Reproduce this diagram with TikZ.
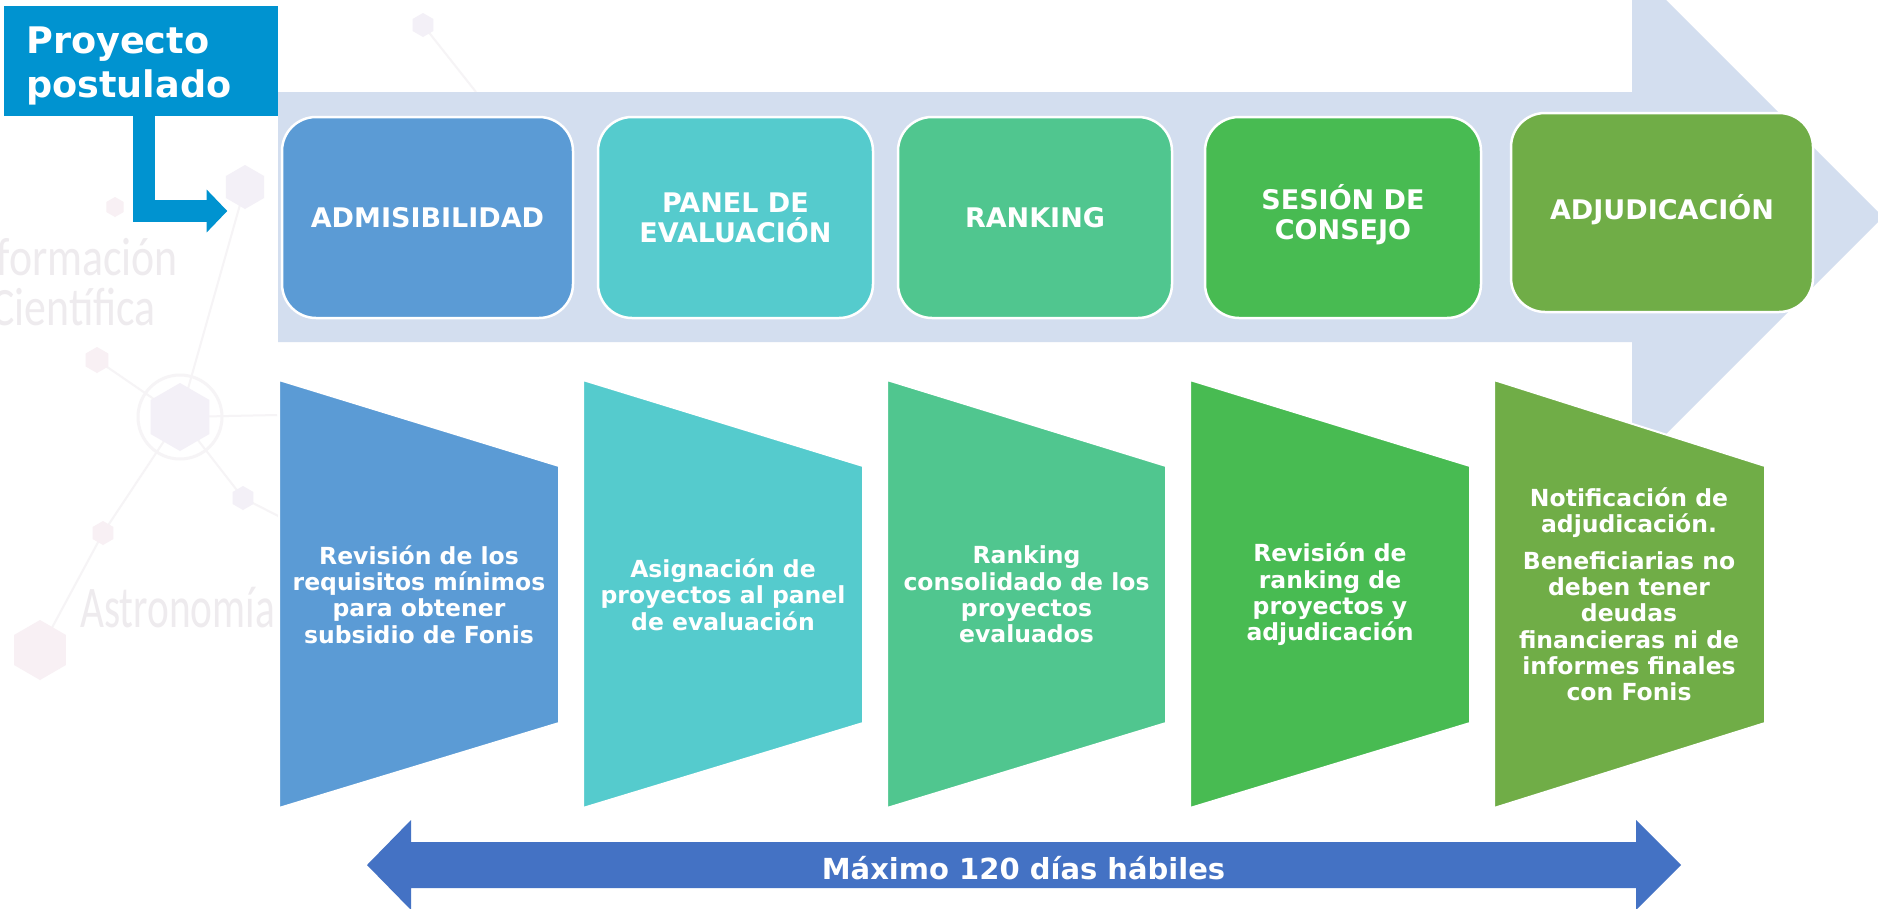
\documentclass[tikz,border=0pt]{standalone}
\usepackage{graphicx}
\usepackage{fontspec}
\setmainfont{DejaVu Sans}
\newfontfamily\wmfont{Carlito}
\usetikzlibrary{arrows.meta}
\definecolor{projblue}{HTML}{0093D0}
\definecolor{bandblue}{HTML}{D3DEEF}
\definecolor{cA}{HTML}{5B9BD5}
\definecolor{cB}{HTML}{55CBCD}
\definecolor{cC}{HTML}{50C68F}
\definecolor{cD}{HTML}{48BB52}
\definecolor{cE}{HTML}{70AD47}
\definecolor{arrowblue}{HTML}{4472C4}
\definecolor{wmgray}{HTML}{EEEBEE}
\definecolor{molpink}{HTML}{F8F0F4}
\definecolor{mollav}{HTML}{F3F0F7}
\definecolor{molline}{HTML}{F6F4F6}
\begin{document}
\begin{tikzpicture}[x=1pt,y=-1pt,
  stagebox/.style={rectangle, rounded corners=34pt, draw=white, line width=2.5pt,
    text=white, font=\bfseries\fontsize{27}{30}\selectfont, align=center,
    inner sep=0pt, outer sep=0pt},
  trapshape/.style={draw=white, line width=2pt},
  traptext/.style={text=white, font=\bfseries\fontsize{23.5}{26.3}\selectfont,
    align=center, inner sep=0pt},
  wm/.style={text=wmgray, inner sep=0pt},
  molbond/.style={draw=molline, line width=2pt}
]
\useasboundingbox (0,0) rectangle (1878,908);
\fill[white] (0,0) rectangle (1878,908);

% faint background molecule network (left)
\coordinate (m0) at (180,417);
\coordinate (m1) at (97,360);
\coordinate (m2) at (243,498);
\coordinate (m3) at (103,533);
\coordinate (m4) at (245,187);
\coordinate (m5) at (40,650);
\coordinate (m6) at (277,415);
\coordinate (m7) at (290,522);
\coordinate (m8) at (423,25);
\coordinate (m8b) at (476,92);
\coordinate (m9) at (115,207);
\draw[molbond] (m1) -- (m0) -- (m2) -- (m7);
\draw[molbond] (m4) -- (m0) -- (m3) -- (m5);
\draw[molbond] (m0) -- (m6);
\draw[molbond] (m8) -- (m8b);
\fill[mollav] (m0) +(90:34) -- +(150:34) -- +(210:34) -- +(270:34) -- +(330:34) -- +(30:34) -- cycle;
\draw[molline, line width=3pt] (m0) circle[radius=42];
\fill[mollav] (m4) +(90:22) -- +(150:22) -- +(210:22) -- +(270:22) -- +(330:22) -- +(30:22) -- cycle;
\fill[mollav] (m8) +(90:12) -- +(150:12) -- +(210:12) -- +(270:12) -- +(330:12) -- +(30:12) -- cycle;
\fill[molpink] (m9) +(90:10) -- +(150:10) -- +(210:10) -- +(270:10) -- +(330:10) -- +(30:10) -- cycle;
\fill[molpink] (m1) +(90:13) -- +(150:13) -- +(210:13) -- +(270:13) -- +(330:13) -- +(30:13) -- cycle;
\fill[molpink] (m3) +(90:12) -- +(150:12) -- +(210:12) -- +(270:12) -- +(330:12) -- +(30:12) -- cycle;
\fill[mollav] (m2) +(90:12) -- +(150:12) -- +(210:12) -- +(270:12) -- +(330:12) -- +(30:12) -- cycle;
\fill[molpink] (m5) +(90:30) -- +(150:30) -- +(210:30) -- +(270:30) -- +(330:30) -- +(30:30) -- cycle;

% faint watermark texts
\node[wm, anchor=base east, font=\wmfont\fontsize{54}{54}\selectfont] (wm1) at (178,275) {\scalebox{0.81}[1]{Información}};
\node[wm, anchor=base east, font=\wmfont\fontsize{54}{54}\selectfont] (wm2) at (156,325) {\scalebox{0.81}[1]{Científica}};
\node[wm, anchor=base west, font=\wmfont\fontsize{59}{59}\selectfont] (wm3) at (80,627) {\scalebox{0.70}[1]{Astronomía}};

% big background arrow band
\fill[bandblue] (278,92) -- (1632,92) -- (1632,-34) -- (1883,217) -- (1632,468)
  -- (1632,342) -- (278,342) -- cycle;

% Proyecto postulado box
\node[fill=projblue, minimum width=274pt, minimum height=110pt, inner sep=0pt, outer sep=0pt] (proj) at (141,61) {};
\node[anchor=north west, inner sep=0pt, text=white, align=left,
  font=\bfseries\fontsize{36.6}{44}\selectfont] (projtext) at (26,26.7) {Proyecto\\postulado};

% bent arrow
\coordinate (bendtip) at (227.3,211);
\draw[projblue, line width=22pt, line join=miter, -{Triangle[length=20.6pt,width=41.6pt]}]
  ([xshift=3.2pt]proj.south) |- (bendtip);

% stage boxes
\node[stagebox, fill=cA, minimum width=291pt, minimum height=201pt] (s1) at (427.5,217.5) {ADMISIBILIDAD};
\node[stagebox, fill=cB, minimum width=275pt, minimum height=201pt] (s2) at (735.5,217.5) {PANEL DE\\EVALUACI\smash{Ó}N};
\node[stagebox, fill=cC, minimum width=274pt, minimum height=201pt] (s3) at (1035,217.5) {RANKING};
\node[stagebox, fill=cD, minimum width=276pt, minimum height=201pt] (s4) at (1343,217.5) {SESI\smash{Ó}N DE\\CONSEJO};
\node[stagebox, fill=cE, minimum width=302pt, minimum height=199pt] (s5) at (1662,212.5) {ADJUDICACI\smash{Ó}N};

% trapezoids
\fill[cA, trapshape] (279,380) -- (559,466) -- (559,723) -- (279,808) -- cycle;
\fill[cB, trapshape] (583,380) -- (863,466) -- (863,723) -- (583,808) -- cycle;
\fill[cC, trapshape] (887,380) -- (1166,466) -- (1166,723) -- (887,808) -- cycle;
\fill[cD, trapshape] (1190,380) -- (1470,466) -- (1470,723) -- (1190,808) -- cycle;
\fill[cE, trapshape] (1494,380) -- (1765,466) -- (1765,723) -- (1494,808) -- cycle;

\node[traptext] (t1) at (419,594.5) {Revisión de los\\requisitos mínimos\\para obtener\\subsidio de Fonis};
\node[traptext] (t2) at (723,594.5) {Asignación de\\proyectos al panel\\de evaluación};
\node[traptext] (t3) at (1026.5,594.5) {Ranking\\consolidado de los\\proyectos\\evaluados};
\node[traptext] (t4) at (1330,594.5) {Revisión de\\ranking de\\proyectos y\\adjudicación};
\node[traptext] (t5) at (1629,594.5) {Notificación de\\adjudicación.\\[10pt]Beneficiarias no\\deben tener\\deudas\\financieras ni de\\informes finales\\con Fonis};

% bottom double arrow
\fill[arrowblue] (367,865) -- (411,820) -- (411,842) -- (1636,842) -- (1636,820)
  -- (1681,865) -- (1636,910) -- (1636,888) -- (411,888) -- (411,910) -- cycle;
\node[text=white, inner sep=0pt, font=\bfseries\fontsize{29}{30}\selectfont] (dur) at (1023.5,868) {Máximo 120 días hábiles};
\end{tikzpicture}
\end{document}
